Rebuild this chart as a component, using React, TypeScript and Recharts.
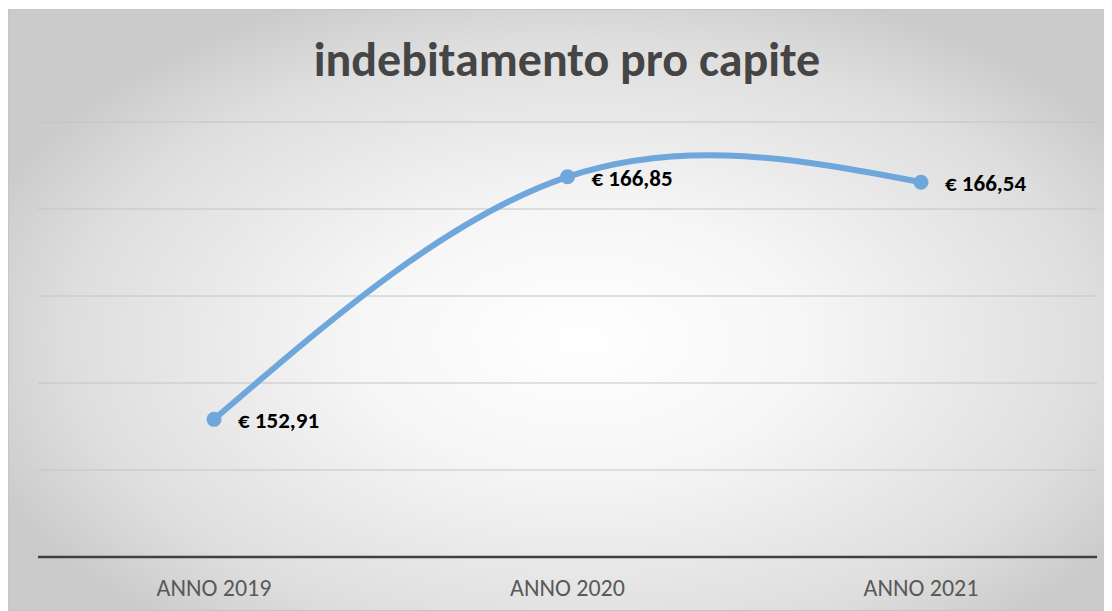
import { LineChart, Line, XAxis, YAxis, CartesianGrid, LabelList } from "recharts";

const anni = ["ANNO 2019", "ANNO 2020", "ANNO 2021"];
const valori = [152.91, 166.85, 166.54];
const yTicks = [145, 150, 155, 160, 165, 170];

const data = anni.map((anno, i) => ({ anno, valore: valori[i] }));

const formatEuro = (v: number) => "€ " + v.toFixed(2).replace(".", ",");

const FONT = "Calibri, Carlito, 'Open Sans', sans-serif";

const EtichettaValore = (props: any) => {
  const { x, y, value } = props;
  return (
    <text
      x={x + 24}
      y={y + 1}
      dominantBaseline="central"
      fontFamily={FONT}
      fontWeight={700}
      fontSize={23}
      fill="#000000"
    >
      {formatEuro(value)}
    </text>
  );
};

export default function App() {
  return (
    <div
      style={{
        position: "relative",
        width: 1104,
        height: 602,
        marginTop: 1,
        background:
          "radial-gradient(ellipse 58% 62% at 52% 55%, #ffffff 0%, #f6f6f6 35%, #dedede 80%, #cbcbcb 100%)",
        boxShadow: "inset 0 0 0 1px #c6c6c6",
        fontFamily: FONT,
      }}
    >
      <div
        style={{
          position: "absolute",
          top: 22,
          left: 0,
          width: 1118,
          textAlign: "center",
          fontSize: 48,
          fontWeight: 700,
          color: "#454545",
          lineHeight: "58px",
        }}
      >
        indebitamento pro capite
      </div>
      <LineChart
        width={1104}
        height={602}
        data={data}
        margin={{ top: 113, right: 15, left: 30, bottom: 0 }}
        style={{ position: "absolute", top: 0, left: 0 }}
      >
        <CartesianGrid vertical={false} stroke="#c4c4c4" strokeWidth={1} />
        <YAxis hide domain={[145, 170]} ticks={yTicks} />
        <XAxis
          dataKey="anno"
          height={54}
          padding={{ left: 176, right: 176 }}
          axisLine={{ stroke: "#404040", strokeWidth: 2.5 }}
          tickLine={false}
          tickMargin={16}
          tick={{ fontSize: 24, fill: "#595959", fontFamily: FONT }}
        />
        <Line
          type="natural"
          dataKey="valore"
          stroke="#6fa6dc"
          strokeWidth={6}
          dot={{ r: 7.5, fill: "#6fa6dc", stroke: "#6fa6dc", strokeWidth: 0 }}
          activeDot={false}
          isAnimationActive={false}
        >
          <LabelList dataKey="valore" content={<EtichettaValore />} />
        </Line>
      </LineChart>
    </div>
  );
}
